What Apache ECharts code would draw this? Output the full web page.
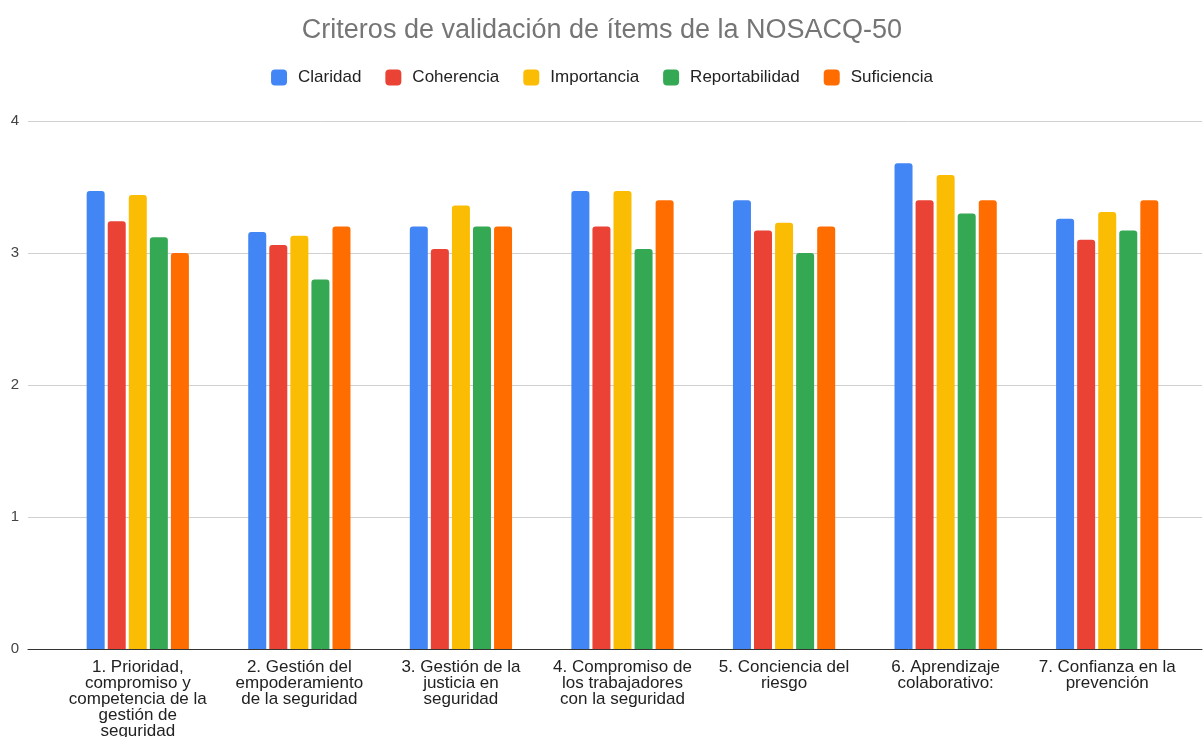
<!DOCTYPE html>
<html><head><meta charset="utf-8">
<script src="https://cdn.jsdelivr.net/npm/echarts@6/dist/echarts.min.js"></script>
<style>html,body{margin:0;padding:0;background:#fff}#c{width:1204px;height:737px}</style>
</head><body><div id="c"></div>
<script>
const categories = [
  "1. Prioridad,\ncompromiso y\ncompetencia de la\ngestión de\nseguridad",
  "2. Gestión del\nempoderamiento\nde la seguridad",
  "3. Gestión de la\njusticia en\nseguridad",
  "4. Compromiso de\nlos trabajadores\ncon la seguridad",
  "5. Conciencia del\nriesgo",
  "6. Aprendizaje\ncolaborativo:",
  "7. Confianza en la\nprevención"
];
const claridad       = [3.47, 3.16, 3.20, 3.47, 3.40, 3.68, 3.26];
const coherencia     = [3.24, 3.06, 3.03, 3.20, 3.17, 3.40, 3.10];
const importancia    = [3.44, 3.13, 3.36, 3.47, 3.23, 3.59, 3.31];
const reportabilidad = [3.12, 2.80, 3.20, 3.03, 3.00, 3.30, 3.17];
const suficiencia    = [3.00, 3.20, 3.20, 3.40, 3.20, 3.40, 3.40];
const seriesNames = ["Claridad", "Coherencia", "Importancia", "Reportabilidad", "Suficiencia"];
const colors = ["#4285F4", "#EA4335", "#FBBC04", "#34A853", "#FF6D01"];
const yTicks = [0, 1, 2, 3, 4];

const values = [claridad, coherencia, importancia, reportabilidad, suficiencia];
const chart = echarts.init(document.getElementById('c'));
chart.setOption({
  animation: false,
  textStyle: { fontFamily: "Liberation Sans, Arial, sans-serif" },
  title: {
    text: "Criteros de validación de ítems de la NOSACQ-50",
    left: 'center', top: 12,
    textStyle: { fontSize: 27, fontWeight: 'normal', color: '#757575' }
  },
  legend: {
    top: 64, left: 'center',
    itemWidth: 16, itemHeight: 16, itemGap: 24,
    icon: 'roundRect',
    textStyle: { fontSize: 17, color: '#222', padding: [0, 0, 0, 6] },
    data: seriesNames
  },
  grid: [
    { left: 57, right: 16, top: 121, bottom: 88, containLabel: false, outerBoundsMode: 'none' },
    { left: 28, right: 2, top: 121, bottom: 88, containLabel: false, outerBoundsMode: 'none' }
  ],
  xAxis: [
    {
      type: 'category', data: categories, gridIndex: 0,
      axisTick: { show: false },
      axisLine: { show: false },
      axisLabel: { fontSize: 17, color: '#222', lineHeight: 16, margin: 10, interval: 0 }
    },
    {
      type: 'category', data: [''], gridIndex: 1,
      axisTick: { show: false }, axisLabel: { show: false },
      axisLine: { lineStyle: { color: '#333', width: 1 } }
    }
  ],
  yAxis: [
    {
      type: 'value', min: 0, max: 4, interval: 1, gridIndex: 0,
      axisLabel: { show: false }, splitLine: { show: false },
      axisLine: { show: false }, axisTick: { show: false }
    },
    {
      type: 'value', min: 0, max: 4, interval: 1, gridIndex: 1,
      axisLabel: { fontSize: 15, color: '#444', margin: 9,
        formatter: v => yTicks.includes(v) ? String(v) : '' },
      splitLine: { lineStyle: { color: '#d0d0d0' } },
      axisLine: { show: false }, axisTick: { show: false }
    }
  ],
  series: seriesNames.map((n, i) => ({
    name: n, type: 'bar', data: values[i], xAxisIndex: 0, yAxisIndex: 0,
    barWidth: 18, barGap: '17%', z: 3,
    itemStyle: { color: colors[i], borderRadius: [3, 3, 0, 0] }
  }))
});
</script></body></html>
